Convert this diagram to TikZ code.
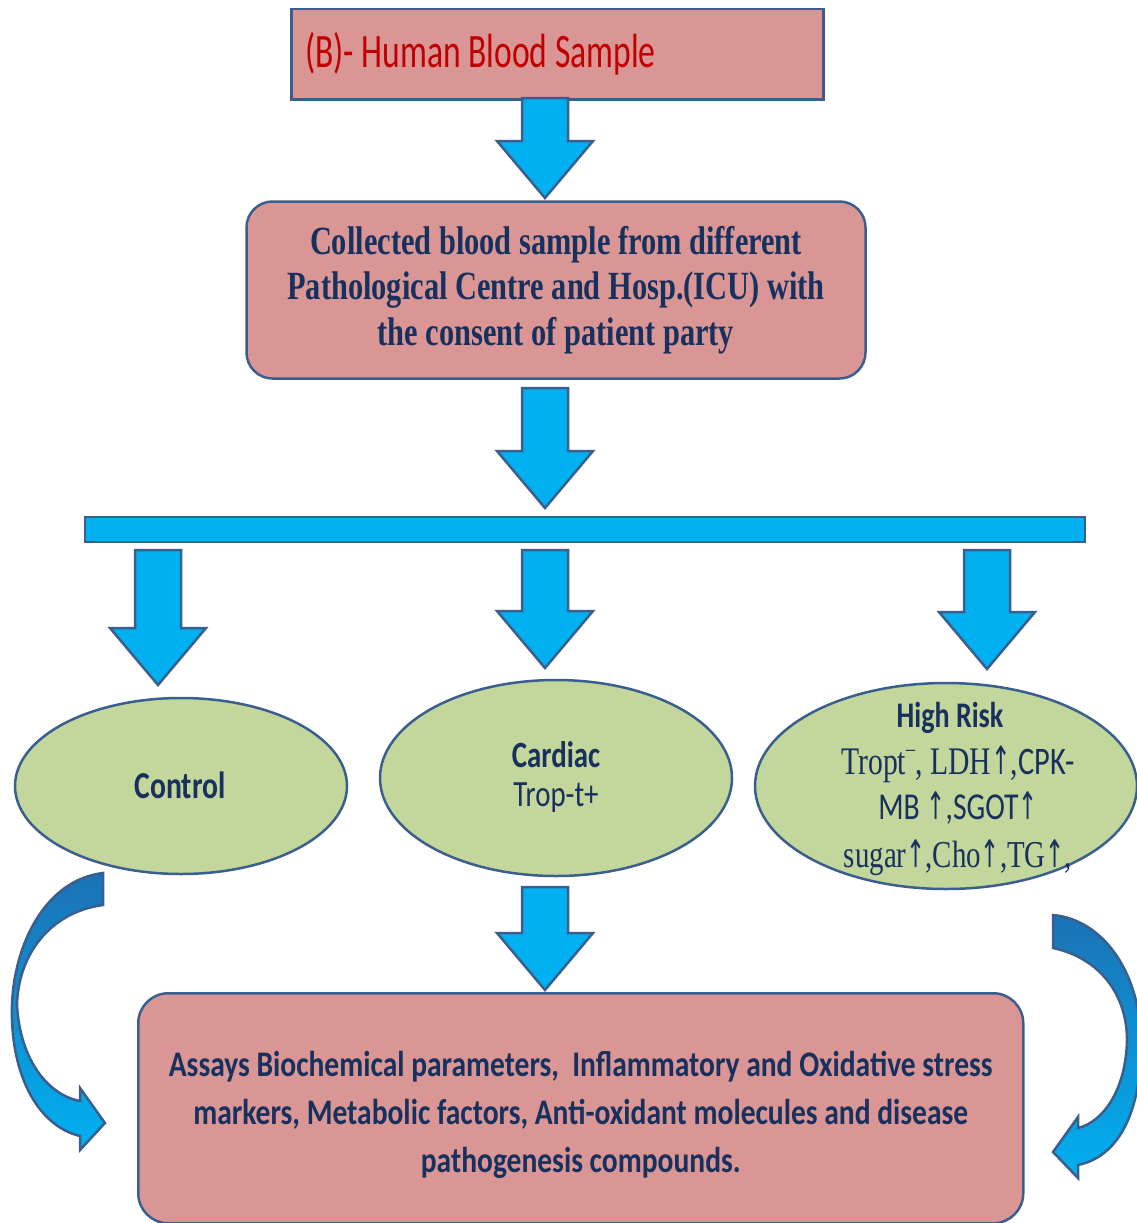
\documentclass[tikz,border=0pt]{standalone}
\usepackage{fontspec}
\usetikzlibrary{calc}
\usetikzlibrary{shapes.geometric}

\newfontfamily\calfont{Carlito}[FakeStretch=0.78]
\newfontfamily\topfont{Carlito}[FakeStretch=0.70]
\newfontfamily\assayfont{Carlito}[FakeStretch=0.82]
\newfontfamily\camfont{Liberation Serif}[FakeStretch=0.76]
\newfontfamily\arrfont{DejaVu Sans}[FakeStretch=0.6]

\definecolor{boxpink}{HTML}{D99694}
\definecolor{edgeblue}{HTML}{3A5F8F}
\definecolor{arrowblue}{HTML}{00B0F0}
\definecolor{darkarrow}{HTML}{1B72B5}
\definecolor{ellgreen}{HTML}{C3D69B}
\definecolor{navy}{HTML}{17305E}
\definecolor{redtext}{HTML}{C00000}

\tikzset{
    pinkbox/.style={draw=edgeblue, fill=boxpink, line width=2.5pt, inner sep=0pt},
    greenell/.style={ellipse, draw=edgeblue, fill=ellgreen, line width=2.5pt, inner sep=0pt},
    blockarr/.style={fill=arrowblue, draw=edgeblue, line width=2.5pt, line join=miter},
    bendarr/.style={top color=darkarrow, bottom color=arrowblue, draw=edgeblue, line width=2.5pt},
    elltext/.style={text=navy, anchor=base, inner sep=0pt}
}

\newcommand{\up}{{\arrfont ↑}}

% block arrow from #1 down to #2
\newcommand{\blockarrow}[2]{
    \path let \p1=(#1), \p2=(#2) in [blockarr]
        (\x1-23pt,\y1) -- (\x1-23pt,\y2+57pt) -- (\x1-48pt,\y2+57pt) -- (\x2,\y2)
        -- (\x1+48pt,\y2+57pt) -- (\x1+23pt,\y2+57pt) -- (\x1+23pt,\y1) -- cycle;
}

\begin{document}
\begin{tikzpicture}[x=1pt, y=-1pt]
    \useasboundingbox (0,0) rectangle (1137,1223);
    \clip (0,0) rectangle (1137,1223);

    \node[pinkbox, rectangle, minimum width=532, minimum height=90, anchor=north west,
          text width=504, align=flush left, font=\topfont\fontsize{48}{52}\selectfont, text=redtext]
          (sample) at (290,8) {(B)- Human Blood Sample};

    \node[pinkbox, rectangle, rounded corners=26pt, minimum width=619, minimum height=177,
          text width=600, align=flush center, font=\camfont\bfseries\fontsize{40}{45.5}\selectfont, text=navy]
          (collect) at (556,290) {Collected blood sample from different\\Pathological Centre and Hosp.(ICU) with\\the consent of patient party};

    \node[draw=edgeblue, fill=arrowblue, line width=2.5pt, rectangle, minimum width=1000,
          minimum height=25, inner sep=0pt] (bar) at (585,529.5) {};

    \node[greenell, minimum width=332, minimum height=176] (control) at (181,786) {};
    \node[greenell, minimum width=352, minimum height=196] (cardiac) at (556,778) {};
    \node[greenell, minimum width=382, minimum height=206] (risk) at (946,786) {};

    \node[elltext, font=\calfont\bfseries\fontsize{38}{44}\selectfont] (controltxt) at (180,798) {Control};
    \node[elltext, font=\calfont\bfseries\fontsize{37}{44}\selectfont] (cardiac1) at (556,767) {Cardiac};
    \node[elltext, font=\calfont\fontsize{37}{44}\selectfont] (cardiac2) at (556,806) {Trop-t+};
    \node[elltext, font=\calfont\bfseries\fontsize{36}{44}\selectfont] (risk1) at (950,727) {High Risk};
    \node[elltext, font=\camfont\fontsize{39}{44}\selectfont] (risk2) at (958,774)
        {Tropt\raisebox{0.45em}{\fontsize{24}{24}\selectfont–}, LDH\up,{\calfont CPK-}};
    \node[elltext, font=\calfont\fontsize{38}{44}\selectfont] (risk3) at (958,819) {MB \up,SGOT\up};
    \node[elltext, font=\camfont\fontsize{38}{44}\selectfont] (risk4) at (958,867) {sugar\up,Cho\up,TG\up,};

    \node[pinkbox, rectangle, rounded corners=30pt, minimum width=885, minimum height=230,
          anchor=north west, text width=860, align=flush center,
          font=\assayfont\bfseries\fontsize{36}{48}\selectfont, text=navy]
          (assay) at (137,992) {\rule{0pt}{38pt}Assays Biochemical parameters,~ Inflammatory and Oxidative stress\\markers, Metabolic factors, Anti-oxidant molecules and disease\\pathogenesis compounds.};

    \coordinate (s1) at (545,98);
    \coordinate (t1) at (545,198);
    \coordinate (s2) at (545,388);
    \coordinate (t2) at (545,508);
    \coordinate (s3) at (545,887);
    \coordinate (t3) at (545,990);
    \blockarrow{s1}{t1}
    \blockarrow{s2}{t2}
    \blockarrow{s3}{t3}
    \foreach \a/\x/\tip in {ctl/158/685,car/545/668,hr/987/669}
    {
        \coordinate (from\a) at (\x,550);
        \coordinate (to\a) at (\x,\tip);
        \blockarrow{from\a}{to\a}
    }

    \path[bendarr] (103,873) -- (103,905) .. controls (50,912) and (18,955) .. (17,1005)
        .. controls (20,1060) and (48,1095) .. (80,1101) -- (80,1088) -- (105,1123) -- (80,1150)
        -- (80,1136) .. controls (35,1125) and (10,1070) .. (12,1005)
        .. controls (14,945) and (45,880) .. (103,873) -- cycle;
    \path[bendarr] (1053,915) -- (1053,948) .. controls (1100,958) and (1127,995) .. (1127,1040)
        .. controls (1126,1090) and (1103,1122) .. (1078,1128) -- (1078,1117) -- (1053,1152)
        -- (1078,1178) -- (1078,1165) .. controls (1125,1155) and (1142,1100) .. (1141,1040)
        .. controls (1140,975) and (1105,920) .. (1053,915) -- cycle;
\end{tikzpicture}
\end{document}
